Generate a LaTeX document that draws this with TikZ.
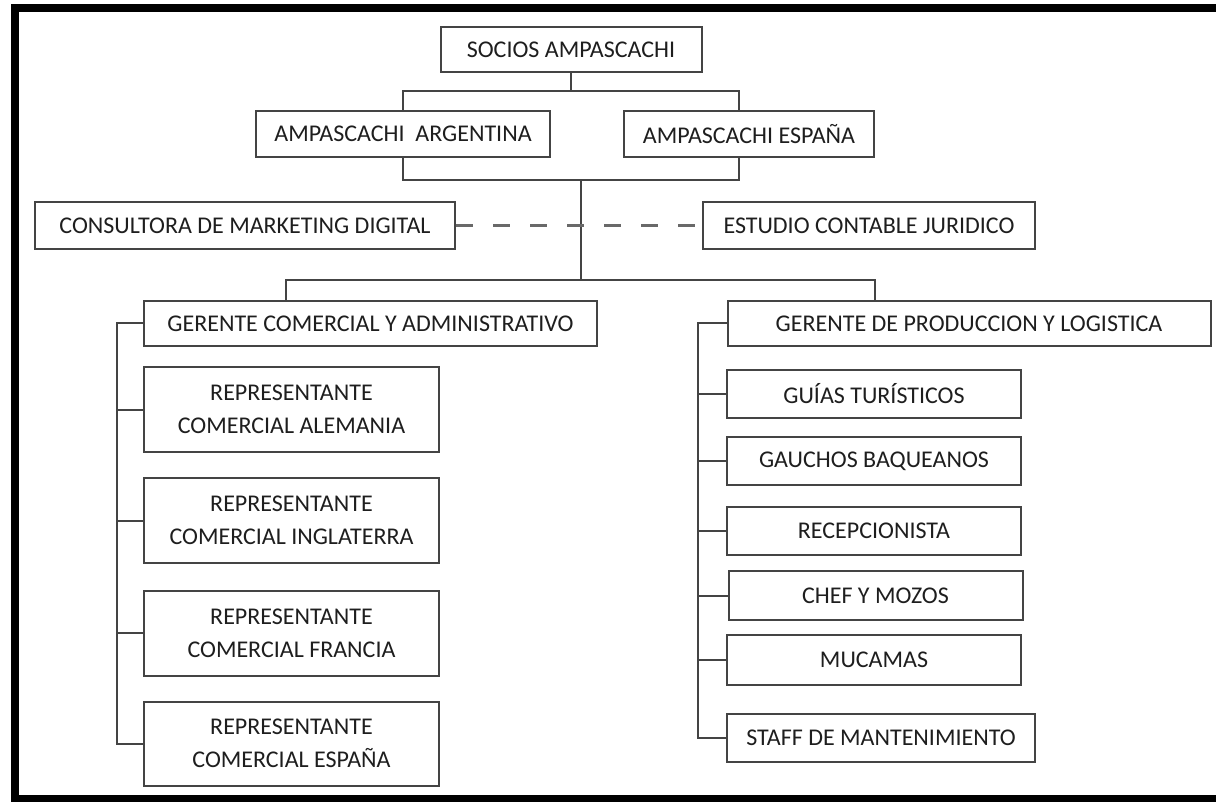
\documentclass[tikz,border=0pt]{standalone}
\usepackage{fontspec}
\setmainfont{Carlito}
\definecolor{linegray}{HTML}{444444}
\definecolor{txtcol}{HTML}{1E1E1E}
\begin{document}
\begin{tikzpicture}[x=0.5pt,y=-0.5pt,
  box/.style={draw=linegray, line width=1pt, fill=white, text=txtcol, inner sep=0pt, align=center,
    font=\fontsize{12}{16.5}\selectfont},
  conn/.style={draw=linegray, line width=1pt},
  dconn/.style={draw=linegray!80, line width=1.2pt, dash pattern=on 8.5pt off 10pt}]
\useasboundingbox (0,0) rectangle (1216,802);
\fill[white] (0,0) rectangle (1216,802);
% frame (left, top, bottom)
\draw[line width=4pt, black] (1220,8) -- (15,8) -- (15,799) -- (1220,799);

% nodes
\node[box, minimum width=130.5pt, minimum height=22.5pt] (socios) at (571,49.5) {SOCIOS AMPASCACHI};
\node[box, minimum width=147pt, minimum height=23pt] (arg) at (403,134) {AMPASCACHI\ \ ARGENTINA};
\node[box, minimum width=125pt, minimum height=23pt] (esp) at (749,134) {AMPASCACHI ESPAÑA};
\node[box, minimum width=210pt, minimum height=23.5pt] (cons) at (245,225.5) {CONSULTORA DE MARKETING DIGITAL};
\node[box, minimum width=166pt, minimum height=23.5pt] (estu) at (869,225.5) {ESTUDIO CONTABLE JURIDICO};

\node[box, minimum width=226.5pt, minimum height=22.5pt] (gcom) at (370.5,323.5) {GERENTE COMERCIAL Y ADMINISTRATIVO};
\node[box, minimum width=147.5pt, minimum height=42.5pt] (ale) at (291.5,409.5) {REPRESENTANTE\\COMERCIAL ALEMANIA};
\node[box, minimum width=147.5pt, minimum height=42.5pt] (ing) at (291.5,520.5) {REPRESENTANTE\\COMERCIAL INGLATERRA};
\node[box, minimum width=147.5pt, minimum height=42.5pt] (fra) at (291.5,633) {REPRESENTANTE\\COMERCIAL FRANCIA};
\node[box, minimum width=147.5pt, minimum height=42pt] (esc) at (291.5,743.5) {REPRESENTANTE\\COMERCIAL ESPAÑA};

\node[box, minimum width=241.5pt, minimum height=22.5pt] (gpro) at (969,323.5) {GERENTE DE PRODUCCION Y LOGISTICA};
\node[box, minimum width=147pt, minimum height=24pt] (gui) at (874,394) {GUÍAS TURÍSTICOS};
\node[box, minimum width=147pt, minimum height=24pt] (gau) at (874,461) {GAUCHOS BAQUEANOS};
\node[box, minimum width=147pt, minimum height=24pt] (rec) at (874,531) {RECEPCIONISTA};
\node[box, minimum width=147pt, minimum height=24.5pt] (chef) at (875.5,595.5) {CHEF Y MOZOS};
\node[box, minimum width=147pt, minimum height=25pt] (muc) at (874,660) {MUCAMAS};
\node[box, minimum width=154pt, minimum height=24pt] (staff) at (881,738) {STAFF DE MANTENIMIENTO};

% bus coordinates
\coordinate (b1) at (571,91);
\coordinate (b2) at (581,180);
\coordinate (b3) at (581,280);
\coordinate (lx) at (117,0);
\coordinate (rx) at (698,0);

% connectors
\draw[conn] (socios.south) -- (b1);
\draw[conn] (arg.north) |- (b1) -| ([xshift=-5pt]esp.north);
\draw[conn] (arg.south) |- (b2) -| ([xshift=-5pt]esp.south);
\draw[conn] (b2) -- (b3);
\draw[conn] ([xshift=71.5pt]gcom.north west) |- (b3) -| ([xshift=74pt]gpro.north west);
\draw[dconn] (cons.east) -- (estu.west);

\draw[conn] (gcom.west) -| (lx |- esc.west) -- (esc.west);
\draw[conn] (ale.west) -- (ale.west -| lx);
\draw[conn] (ing.west) -- (ing.west -| lx);
\draw[conn] (fra.west) -- (fra.west -| lx);

\draw[conn] (gpro.west) -| (rx |- staff.west) -- (staff.west);
\draw[conn] (gui.west) -- (gui.west -| rx);
\draw[conn] (gau.west) -- (gau.west -| rx);
\draw[conn] (rec.west) -- (rec.west -| rx);
\draw[conn] (chef.west) -- (chef.west -| rx);
\draw[conn] (muc.west) -- (muc.west -| rx);
\end{tikzpicture}
\end{document}
